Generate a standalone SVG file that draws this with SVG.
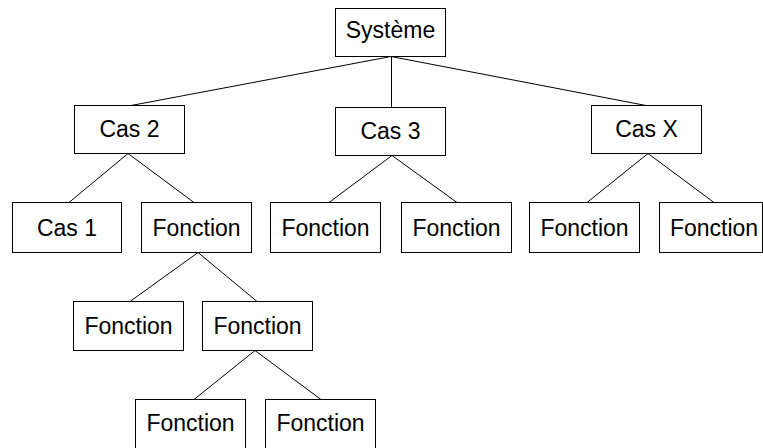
<svg xmlns="http://www.w3.org/2000/svg" width="763" height="448" viewBox="0 0 763 448">
<style>
rect.n{fill:#fff;stroke:#000;stroke-width:1}
text{font-family:"Liberation Sans",Arial,sans-serif;font-size:23px;fill:#000;text-anchor:middle}
.c line{stroke:#000;stroke-width:1}
</style>
<rect width="763" height="448" fill="#fff"/>
<g class="c" id="connectors">
<line x1="391" y1="56.5" x2="131" y2="105.5"/>
<line x1="391.5" y1="56.5" x2="391.5" y2="107.5"/>
<line x1="391" y1="56.5" x2="646" y2="105.5"/>
<line x1="128" y1="153.5" x2="69" y2="202.5"/>
<line x1="128" y1="153.5" x2="194" y2="202.5"/>
<line x1="392" y1="155.5" x2="329" y2="202.5"/>
<line x1="392" y1="155.5" x2="457" y2="202.5"/>
<line x1="648" y1="153.5" x2="587" y2="202.5"/>
<line x1="648" y1="153.5" x2="714" y2="202.5"/>
<line x1="198" y1="252.5" x2="130" y2="301.5"/>
<line x1="198" y1="252.5" x2="257" y2="301.5"/>
<line x1="255" y1="350.5" x2="194" y2="399.5"/>
<line x1="255" y1="350.5" x2="321" y2="399.5"/>
</g>
<g id="systeme"><rect class="n" x="335.5" y="8.5" width="110" height="48"/><text x="390.5" y="38">Système</text></g>
<g id="cas2"><rect class="n" x="74.5" y="105.5" width="110" height="48"/><text x="129.5" y="137">Cas 2</text></g>
<g id="cas3"><rect class="n" x="335.5" y="107.5" width="110" height="48"/><text x="390.5" y="139">Cas 3</text></g>
<g id="casx"><rect class="n" x="591.5" y="105.5" width="110" height="48"/><text x="646.5" y="137">Cas X</text></g>
<g id="cas1"><rect class="n" x="12.5" y="202.5" width="109" height="50"/><text x="67" y="236">Cas 1</text></g>
<g id="f1"><rect class="n" x="141.5" y="202.5" width="110" height="50"/><text x="196.5" y="236">Fonction</text></g>
<g id="f2"><rect class="n" x="270.5" y="202.5" width="110" height="50"/><text x="325.5" y="236">Fonction</text></g>
<g id="f3"><rect class="n" x="401.5" y="202.5" width="110" height="50"/><text x="456.5" y="236">Fonction</text></g>
<g id="f4"><rect class="n" x="529.5" y="202.5" width="110" height="50"/><text x="584.5" y="236">Fonction</text></g>
<g id="f5"><rect class="n" x="659.5" y="202.5" width="103" height="50"/><text x="714" y="236">Fonction</text></g>
<g id="f6"><rect class="n" x="73.5" y="301.5" width="110" height="49"/><text x="128.5" y="334">Fonction</text></g>
<g id="f7"><rect class="n" x="202.5" y="301.5" width="110" height="49"/><text x="257.5" y="334">Fonction</text></g>
<g id="f8"><rect class="n" x="135.5" y="399.5" width="110" height="50"/><text x="190.5" y="431">Fonction</text></g>
<g id="f9"><rect class="n" x="265.5" y="399.5" width="110" height="50"/><text x="320.5" y="431">Fonction</text></g>
</svg>
